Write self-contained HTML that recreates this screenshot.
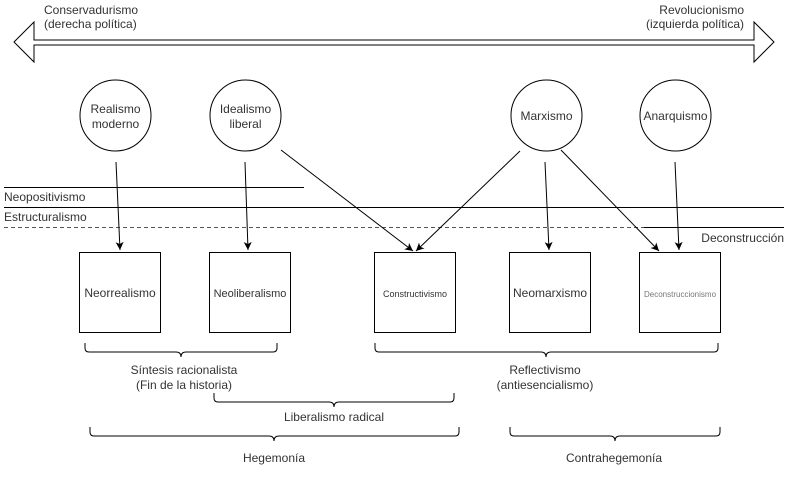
<!DOCTYPE html>
<html><head><meta charset="utf-8"><style>
html,body{margin:0;padding:0;background:#fff;}
svg{display:block;font-family:"Liberation Sans",Arial,sans-serif;}
text{fill:#333;font-size:12px;}
</style></head><body>
<svg width="788" height="498" viewBox="0 0 788 498" xmlns="http://www.w3.org/2000/svg">
<defs><marker id="a" markerWidth="10" markerHeight="10" refX="8" refY="4" orient="auto" markerUnits="userSpaceOnUse"><path d="M0,0 L8,4 L0,8 L2,4 Z" fill="#000"/></marker></defs>
<path d="M14,42 L34,22 L34,40 L754,40 L754,22 L774,42 L754,62 L754,45 L34,45 L34,62 Z" fill="#fff" stroke="#000" stroke-width="1"/>
<text x="44" y="14">Conservadurismo</text>
<text x="44" y="28">(derecha política)</text>
<text x="744" y="14" text-anchor="end">Revolucionismo</text>
<text x="744" y="28" text-anchor="end">(izquierda política)</text>
<g fill="#fff" stroke="#000">
<circle cx="115.5" cy="115.5" r="35.5"/><circle cx="245.5" cy="115.5" r="35.5"/>
<circle cx="546.5" cy="115.5" r="35.5"/><circle cx="675.5" cy="115.5" r="35.5"/>
</g>
<text x="115.5" y="113" text-anchor="middle">Realismo</text><text x="115.5" y="128" text-anchor="middle">moderno</text>
<text x="245.5" y="113" text-anchor="middle">Idealismo</text><text x="245.5" y="128" text-anchor="middle">liberal</text>
<text x="546.5" y="120" text-anchor="middle">Marxismo</text>
<text x="675.5" y="120" text-anchor="middle">Anarquismo</text>
<line x1="4" y1="187.5" x2="304" y2="187.5" stroke="#000"/>
<line x1="4" y1="207.5" x2="784" y2="207.5" stroke="#000"/>
<line x1="4" y1="227.5" x2="644" y2="227.5" stroke="#555" stroke-dasharray="4,3"/>
<line x1="644" y1="227.5" x2="784" y2="227.5" stroke="#000"/>
<text x="4" y="201">Neopositivismo</text>
<text x="4" y="221">Estructuralismo</text>
<text x="784" y="242" text-anchor="end">Deconstrucción</text>
<g fill="#fff" stroke="#000">
<rect x="79.5" y="252.5" width="81" height="80"/><rect x="209.5" y="252.5" width="81" height="80"/>
<rect x="374.5" y="252.5" width="81" height="80"/><rect x="509.5" y="252.5" width="81" height="80"/>
<rect x="639.5" y="252.5" width="81" height="80"/>
</g>
<text x="120" y="297" text-anchor="middle">Neorrealismo</text>
<text x="250" y="297" text-anchor="middle" style="font-size:11px">Neoliberalismo</text>
<text x="415" y="297" text-anchor="middle" style="font-size:9px">Constructivismo</text>
<text x="550" y="297" text-anchor="middle">Neomarxismo</text>
<text x="680" y="297" text-anchor="middle" style="font-size:8px;fill:#777">Deconstruccionismo</text>
<g stroke="#000" marker-end="url(#a)">
<line x1="116" y1="162" x2="120" y2="250"/>
<line x1="245" y1="162" x2="248" y2="250"/>
<line x1="281" y1="150" x2="413" y2="251"/>
<line x1="520" y1="151" x2="416" y2="251"/>
<line x1="545" y1="162" x2="549" y2="250"/>
<line x1="561" y1="150" x2="659" y2="251"/>
<line x1="675" y1="162" x2="679" y2="250"/>
</g>
<g fill="none" stroke="#000">
<path d="M85,343 v5 q0,4 4,4 h87 q5,0 5,5 q0,-5 5,-5 h87 q4,0 4,-4 v-5"/>
<path d="M375,343 v5 q0,4 4,4 h162 q5,0 5,5 q0,-5 5,-5 h163 q4,0 4,-4 v-5"/>
<path d="M214,393 v5 q0,4 4,4 h111 q5,0 5,5 q0,-5 5,-5 h111 q4,0 4,-4 v-5"/>
<path d="M90,427 v5 q0,4 4,4 h175 q5,0 5,5 q0,-5 5,-5 h176 q4,0 4,-4 v-5"/>
<path d="M510,427 v5 q0,4 4,4 h96 q5,0 5,5 q0,-5 5,-5 h96 q4,0 4,-4 v-5"/>
</g>
<text x="184" y="374" text-anchor="middle">Síntesis racionalista</text>
<text x="184" y="389" text-anchor="middle">(Fin de la historia)</text>
<text x="545" y="374" text-anchor="middle">Reflectivismo</text>
<text x="545" y="389" text-anchor="middle">(antiesencialismo)</text>
<text x="334" y="421" text-anchor="middle">Liberalismo radical</text>
<text x="274" y="462" text-anchor="middle">Hegemonía</text>
<text x="614" y="462" text-anchor="middle">Contrahegemonía</text>
</svg>
</body></html>
